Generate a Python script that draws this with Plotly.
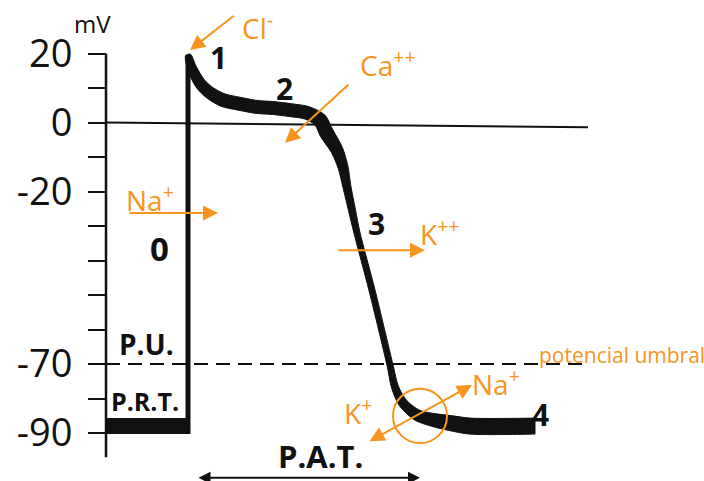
import math
import plotly.graph_objects as go

# Cardiac ventricular action potential (time in ms, membrane potential in mV)
time_ms = [0, 5, 15, 27.5, 43.75, 65, 86.25, 106.25, 127.5, 148.75, 165, 173.4,
           186.25, 193.75, 198.75, 205, 211.25, 230, 252.5, 258.75, 268.75,
           286.25, 306.25, 327.5, 352.5, 433.75]
potential_mv = [19.6, 15.8, 11.4, 8.6, 6.5, 5.4, 4.5, 4.2, 3.6, 2.8, 0.7, -3.1,
                -8.0, -12.9, -18.7, -25.4, -32.0, -48.6, -70.3, -76.7, -81.3,
                -84.8, -86.2, -87.1, -88.0, -88.0]
# stroke thickness along the trace (px)
stroke_px = [5, 9, 11, 12, 13, 13, 13, 13, 13, 13, 14, 14, 12, 10, 8, 7, 6, 6,
             6, 7, 9, 11, 13, 15, 16, 16]

resting_mv = -88.0
rest_start_ms = -102.5
threshold_mv = -70
tick_vals = [20, 10, 0, -10, -20, -30, -40, -50, -60, -70, -80, -90]
tick_text = ["20", "", "0", "", "-20", "", "", "", "", "-70", "", "-90"]

X_RANGE = [-235, 645]
Y_RANGE = [-103.91, 35.51]
W, H = 704, 481
PX_PER_MS = W / (X_RANGE[1] - X_RANGE[0])
PX_PER_MV = H / (Y_RANGE[1] - Y_RANGE[0])

ORANGE = "#f7941d"
BLACK = "#111111"

fig = go.Figure()

# resting phase before the upstroke
fig.add_trace(go.Scatter(x=[rest_start_ms, time_ms[0] + 2], y=[resting_mv, resting_mv],
                         mode="lines", line=dict(color=BLACK, width=16),
                         hoverinfo="skip", showlegend=False))
# phase 0 upstroke
fig.add_trace(go.Scatter(x=[time_ms[0], time_ms[0]], y=[resting_mv - 2.2, potential_mv[0]],
                         mode="lines", line=dict(color=BLACK, width=5),
                         hoverinfo="skip", showlegend=False))

# phases 1-4 as a filled ribbon whose thickness follows stroke_px
n = len(time_ms)
upper_x, upper_y, lower_x, lower_y = [], [], [], []
for i in range(n):
    a, b = max(i - 1, 0), min(i + 1, n - 1)
    dx = (time_ms[b] - time_ms[a]) * PX_PER_MS
    dy = (potential_mv[b] - potential_mv[a]) * PX_PER_MV
    norm = math.hypot(dx, dy)
    nx, ny = -dy / norm, dx / norm
    half = stroke_px[i] / 2
    upper_x.append(time_ms[i] + nx * half / PX_PER_MS)
    upper_y.append(potential_mv[i] + ny * half / PX_PER_MV)
    lower_x.append(time_ms[i] - nx * half / PX_PER_MS)
    lower_y.append(potential_mv[i] - ny * half / PX_PER_MV)

# repeating the two end corners keeps the phase 4 end square
ribbon_x = upper_x + [upper_x[-1]] + [lower_x[-1]] + lower_x[::-1] + [upper_x[0]]
ribbon_y = upper_y + [upper_y[-1]] + [lower_y[-1]] + lower_y[::-1] + [upper_y[0]]
fig.add_trace(go.Scatter(
    x=ribbon_x, y=ribbon_y,
    mode="lines", fill="toself", fillcolor=BLACK,
    line=dict(color=BLACK, width=1, shape="spline", smoothing=0.8),
    hoverinfo="skip", showlegend=False))

shapes = [
    # vertical axis line
    dict(type="line", x0=rest_start_ms, x1=rest_start_ms, y0=20, y1=-97,
         line=dict(color=BLACK, width=2.5)),
    # zero reference line
    dict(type="line", x0=rest_start_ms, x1=500, y0=0, y1=-1.4,
         line=dict(color=BLACK, width=2)),
    # threshold (dashed)
    dict(type="line", x0=rest_start_ms, x1=500, y0=threshold_mv, y1=threshold_mv,
         line=dict(color=BLACK, width=2, dash="14px,8px")),
    # circle at end of repolarisation
    dict(type="circle", x0=256.25, x1=323.75, y0=-92.9, y1=-77.2,
         line=dict(color=ORANGE, width=2)),
]

annotations = []


def label(x, y, text, size, color=BLACK, bold=False, xanchor="center"):
    annotations.append(dict(x=x, y=y, text=f"<b>{text}</b>" if bold else text,
                            showarrow=False, xanchor=xanchor, yanchor="middle",
                            font=dict(size=size, color=color, family="Open Sans")))


def arrow(x, y, ax, ay, color=ORANGE, both=False, width=2, size=1.5):
    a = dict(x=x, y=y, ax=ax, ay=ay, xref="x", yref="y", axref="x", ayref="y",
             text="", showarrow=True, arrowhead=2, arrowsize=size,
             arrowwidth=width, arrowcolor=color)
    if both:
        a.update(arrowside="end+start", startarrowhead=2, startarrowsize=size)
    annotations.append(a)


label(-120, 28.8, "mV", 24)
label(37.5, 18.7, "1", 30, bold=True)
label(120, 10.0, "2", 30, bold=True)
label(235, -29.4, "3", 30, bold=True)
label(440, -84.5, "4", 30, bold=True)
label(-36.25, -36.4, "0", 33, bold=True)
label(-52.5, -64.2, "P.U.", 28, bold=True)
label(-53.75, -80.7, "P.R.T.", 25, bold=True)
label(165, -96.7, "P.A.T.", 31, bold=True)

label(86.25, 27.7, "Cl<sup>-</sup>", 28, ORANGE)
label(250, 17.2, "Ca<sup>++</sup>", 28, ORANGE)
label(-47.5, -21.9, "Na<sup>+</sup>", 28, ORANGE)
label(315, -32.0, "K<sup>++</sup>", 28, ORANGE)
label(212.5, -83.9, "K<sup>+</sup>", 28, ORANGE)
label(385, -75.5, "Na<sup>+</sup>", 28, ORANGE)
label(436.25, -67.4, "potencial umbral", 21, ORANGE, xanchor="left")

arrow(2.5, 21.0, 58.75, 31.2)
arrow(121.25, -5.9, 202.5, 11.4)
arrow(37.5, -26.2, -75, -26.2)
arrow(296.25, -37.0, 186.25, -37.0)
arrow(355, -76.1, 225, -92.6, both=True)
# action potential duration
arrow(290, -103.0, 11.25, -103.0, color=BLACK, both=True, width=2, size=1.2)

fig.update_layout(
    width=W, height=H,
    margin=dict(l=0, r=0, t=0, b=0),
    paper_bgcolor="white", plot_bgcolor="white",
    shapes=shapes, annotations=annotations,
    xaxis=dict(range=X_RANGE, visible=False, fixedrange=True),
    yaxis=dict(range=Y_RANGE, anchor="free", position=106 / W,
               showgrid=False, zeroline=False, showline=False,
               ticks="outside", ticklen=18, tickwidth=2, tickcolor=BLACK,
               tickvals=tick_vals, ticktext=tick_text, ticklabelstandoff=8,
               tickfont=dict(size=38, color=BLACK, family="Open Sans"),
               fixedrange=True),
)

fig.write_html("out.html")
